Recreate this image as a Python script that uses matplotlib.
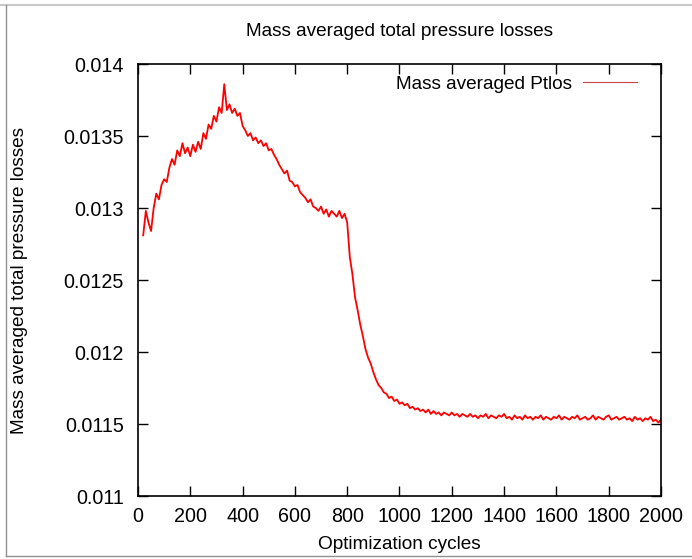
#! /usr/bin/env python
"""Mass averaged total pressure losses over the optimization run (gnuplot look)."""

import numpy as np
import matplotlib
matplotlib.use('Agg')
import matplotlib.pyplot as plt
from matplotlib.lines import Line2D

plt.rcParams['font.family'] = ['Liberation Sans', 'DejaVu Sans']
font_size = 13.7
tick_size = 14.2

# optimization cycle of each sample
cycles = np.arange(20, 2001, 10)

# mass averaged total pressure loss
ptlos = [
    0.01281, 0.01298, 0.01290, 0.01284, 0.01300, 0.01310, 0.01306, 0.01316, 0.01320, 0.01318,
    0.01328, 0.01334, 0.01330, 0.01340, 0.01336, 0.01345, 0.01338, 0.01342, 0.01336, 0.01344,
    0.01339, 0.01346, 0.01341, 0.01352, 0.01348, 0.01358, 0.01355, 0.01364, 0.01360, 0.01370,
    0.01366, 0.01386, 0.01368, 0.01372, 0.01366, 0.01369, 0.01364, 0.01366, 0.01357, 0.01354,
    0.01350, 0.01352, 0.01347, 0.01349, 0.01345, 0.01347, 0.01343, 0.01345, 0.01340, 0.01341,
    0.01337, 0.01334, 0.01330, 0.01327, 0.01324, 0.01326, 0.01319, 0.01318, 0.01315, 0.01316,
    0.01311, 0.01309, 0.01307, 0.01304, 0.01306, 0.01301, 0.01300, 0.01298, 0.01301, 0.01296,
    0.01299, 0.01294, 0.01298, 0.01296, 0.01294, 0.01298, 0.01293, 0.01296, 0.01290, 0.01266,
    0.01254, 0.01238, 0.01229, 0.01219, 0.01211, 0.01202, 0.01196, 0.01192, 0.01186, 0.01181,
    0.01177, 0.01175, 0.01172, 0.01171, 0.01168, 0.01169, 0.01166, 0.01167, 0.01164, 0.01165,
    0.01163, 0.01164, 0.01161, 0.01162, 0.01160, 0.01161, 0.01159, 0.01160, 0.01158, 0.01160,
    0.01157, 0.01159, 0.01157, 0.01158, 0.01156, 0.01158, 0.01157, 0.01156, 0.01158, 0.01156,
    0.01157, 0.01155, 0.01157, 0.01156, 0.01155, 0.01157, 0.01155, 0.01156, 0.01154, 0.01156,
    0.01155, 0.01157, 0.01154, 0.01156, 0.01155, 0.01154, 0.01156, 0.01155, 0.01157, 0.01154,
    0.01155, 0.01153, 0.01156, 0.01154, 0.01155, 0.01153, 0.01156, 0.01154, 0.01155, 0.01153,
    0.01155, 0.01154, 0.01156, 0.01153, 0.01155, 0.01154, 0.01153, 0.01155, 0.01154, 0.01156,
    0.01153, 0.01155, 0.01154, 0.01153, 0.01155, 0.01154, 0.01156, 0.01153, 0.01154, 0.01155,
    0.01153, 0.01154, 0.01156, 0.01153, 0.01155, 0.01154, 0.01153, 0.01155, 0.01156, 0.01153,
    0.01154, 0.01155, 0.01153, 0.01154, 0.01155, 0.01153, 0.01154, 0.01152, 0.01155, 0.01153,
    0.01154, 0.01152, 0.01154, 0.01153, 0.01155, 0.01152, 0.01153, 0.01151, 0.01153,
]

xticks = [0, 200, 400, 600, 800, 1000, 1200, 1400, 1600, 1800, 2000]
yticks = [0.011, 0.0115, 0.012, 0.0125, 0.013, 0.0135, 0.014]
ytick_labels = ['0.011', '0.0115', '0.012', '0.0125', '0.013', '0.0135', '0.014']

fig = plt.figure(figsize=(6.92, 5.59), dpi=100)
ax = fig.add_axes([0.1994, 0.1127, 0.7558, 0.7728])

ax.plot(cycles, ptlos, color='#ff0000', lw=1.3, label='Mass averaged Ptlos')

ax.set_xlim(0, 2000)
ax.set_ylim(0.011, 0.014)
ax.set_xticks(xticks)
ax.set_xticklabels([str(t) for t in xticks])
ax.set_yticks(yticks)
ax.set_yticklabels(ytick_labels)
ax.tick_params(direction='in', top=True, right=True, length=7, width=1.0,
               labelsize=tick_size)
ax.tick_params(axis='y', pad=10)
ax.tick_params(axis='x', pad=8)
for s in ax.spines.values():
    s.set_linewidth(1.2)

ax.set_title('Mass averaged total pressure losses', fontsize=font_size, y=1.045)
ax.set_xlabel('Optimization cycles', fontsize=font_size)
ax.set_ylabel('Mass averaged total pressure losses', fontsize=font_size)
ax.xaxis.set_label_coords(0.5, -0.113, transform=ax.transAxes)
ax.yaxis.set_label_coords(-0.2256, 0.5, transform=ax.transAxes)
ax.xaxis.label.set_va('center')
ax.yaxis.label.set_va('center')

leg = ax.legend(loc='upper right', frameon=False, markerfirst=False,
                fontsize=font_size, handlelength=2.8, handletextpad=0.6,
                borderaxespad=0.2, bbox_to_anchor=(0.975, 1.0))
for h in leg.get_lines():
    h.set_linewidth(0.8)
    h.set_color('#cc4444')

# screenshot window border
fig.add_artist(Line2D([0, 1], [1 - 5 / 559, 1 - 5 / 559], color='#c8c8c8', lw=1.5))
fig.add_artist(Line2D([6 / 692, 6 / 692], [1 - 5 / 559, 3 / 559], color='#909090', lw=1.0))
fig.add_artist(Line2D([6 / 692, 1], [3 / 559, 3 / 559], color='#909090', lw=1.0))

fig.savefig('out.png', dpi=100)
